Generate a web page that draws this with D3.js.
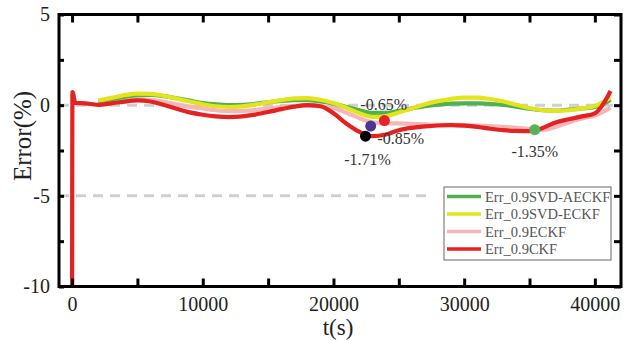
<!DOCTYPE html>
<html>
<head>
<meta charset="utf-8">
<script src="https://cdn.jsdelivr.net/npm/d3@7/dist/d3.min.js"></script>
<style>
  html, body { margin: 0; padding: 0; background: #fff; }
  svg { display: block; }
  text { font-family: "Liberation Serif", "Times New Roman", serif; }
</style>
</head>
<body>
<svg id="chart" width="634" height="341"></svg>
<script>
// Sampling times (s) shared by all four error series
const timeGrid = [2000, 3000, 4000, 5000, 6000, 7000, 8000, 9000, 10000, 11000,
  12000, 13000, 14000, 15000, 16000, 17000, 18000, 19000, 20000, 21000,
  22000, 23000, 24000, 25000, 26000, 27000, 28000, 29000, 30000, 31000,
  32000, 33000, 34000, 35000, 36000, 37000, 38000, 39000, 40000, 41000, 41200];

// SOC estimation error (%) per filter
const errSvdAeckf = [0.2, 0.33, 0.46, 0.55, 0.57, 0.5, 0.38, 0.25, 0.12, 0.04,
  0.0, 0.02, 0.08, 0.16, 0.23, 0.28, 0.28, 0.2, 0.08, -0.1,
  -0.28, -0.43, -0.43, -0.32, -0.18, -0.05, 0.03, 0.08, 0.1, 0.1,
  0.07, 0.02, -0.08, -0.2, -0.28, -0.3, -0.25, -0.18, -0.1, 0.2, 0.3];
const errSvdEckf = [0.25, 0.4, 0.55, 0.64, 0.62, 0.52, 0.36, 0.2, 0.05, -0.06,
  -0.1, -0.07, 0.03, 0.16, 0.28, 0.37, 0.39, 0.3, 0.12, -0.15,
  -0.45, -0.65, -0.6, -0.4, -0.18, 0.05, 0.22, 0.35, 0.42, 0.42,
  0.34, 0.2, 0.02, -0.16, -0.28, -0.32, -0.28, -0.18, -0.05, 0.33, 0.4];
const errEckf = [0.08, 0.15, 0.25, 0.32, 0.3, 0.18, 0.04, -0.08, -0.18, -0.28,
  -0.33, -0.32, -0.27, -0.18, -0.1, -0.04, -0.02, -0.06, -0.15, -0.42,
  -0.72, -0.95, -1.0, -1.0, -1.03, -1.06, -1.08, -1.08, -1.1, -1.12,
  -1.15, -1.2, -1.25, -1.3, -1.36, -1.2, -0.95, -0.74, -0.57, -0.22, -0.13];
const errCkf = [0.02, 0.1, 0.2, 0.26, 0.2, 0.02, -0.2, -0.4, -0.53, -0.62,
  -0.66, -0.62, -0.52, -0.38, -0.22, -0.08, 0.0, -0.06, -0.45, -1.02,
  -1.47, -1.71, -1.62, -1.38, -1.25, -1.17, -1.12, -1.1, -1.13, -1.2,
  -1.3, -1.38, -1.42, -1.43, -1.26, -0.95, -0.78, -0.62, -0.45, 0.5, 0.78];

// CKF start-up transient before the shared grid
const ckfLeadTime = [0, 30, 250, 1000];
const ckfLeadErr = [-10.6, 0.72, 0.12, 0.1];

const seriesNames = ["Err_0.9SVD-AECKF", "Err_0.9SVD-ECKF", "Err_0.9ECKF", "Err_0.9CKF"];
const seriesColors = ["#4fb24f", "#e4e41c", "#f4b6b6", "#e42222"];

// Marked points and their annotations
const markTime = [22850, 23900, 22450, 35400, 23000];
const markErr = [-1.15, -0.85, -1.71, -1.35, -0.65];
const markLabel = ["", "-0.85%", "-1.71%", "-1.35%", "-0.65%"];
const markColor = ["#4a3597", "#e8222a", "#000000", "#55b455", null];

const xTicks = [0, 5000, 10000, 15000, 20000, 25000, 30000, 35000, 40000];
const yTicks = [5, 2.5, 0, -2.5, -5, -7.5, -10];
const refLevels = [0, -5];

const svg = d3.select("#chart");
const L = 59, R = 621, T = 14.5, B = 286.5;

const x = d3.scaleLinear().domain([-1000, 42000]).range([L, R]);
const y = d3.scaleLinear().domain([-10, 5]).range([B, T]);

svg.append("defs").append("clipPath").attr("id", "plotClip")
  .append("rect").attr("x", L).attr("y", T).attr("width", R - L).attr("height", B - T);

// Dashed reference levels
const refEnd = [42000, 27600];
svg.append("g").selectAll("line").data(refLevels).join("line")
  .attr("x1", x(-1000)).attr("x2", (d, i) => x(refEnd[i]))
  .attr("y1", d => y(d)).attr("y2", d => y(d))
  .attr("stroke", "#cfcfcf").attr("stroke-width", 3)
  .attr("stroke-dasharray", "10,7");

// Error curves
const line = d3.line().x(d => x(d[0])).y(d => y(d[1])).curve(d3.curveMonotoneX);
const seriesValues = [errSvdAeckf, errSvdEckf, errEckf, errCkf];
const drawOrder = [2, 0, 1, 3];
const plot = svg.append("g").attr("clip-path", "url(#plotClip)");
drawOrder.forEach(i => {
  let pts = timeGrid.map((t, k) => [t, seriesValues[i][k]]);
  if (i === 3) pts = ckfLeadTime.map((t, k) => [t, ckfLeadErr[k]]).concat(pts);
  plot.append("path").datum(pts)
    .attr("fill", "none")
    .attr("stroke", seriesColors[i])
    .attr("stroke-width", 4.2)
    .attr("stroke-linejoin", "round")
    .attr("d", line);
});

// Axes: inward ticks on all four sides; plain hyphen for negatives
const fmtX = d => (d % 10000 === 0 ? String(d) : "");
const fmtY = d => (d % 5 === 0 ? String(d) : "");
function styleAxis(g) {
  g.select(".domain").remove();
  g.selectAll(".tick line").attr("stroke", "#000").attr("stroke-width", 3);
  g.selectAll(".tick text").attr("fill", "#222").attr("font-size", 20)
    .style("font-family", "'Liberation Serif', serif");
}
svg.append("g").attr("transform", `translate(0,${B})`)
  .call(d3.axisBottom(x).tickValues(xTicks).tickSize(-8).tickPadding(10).tickFormat(fmtX))
  .call(styleAxis);
svg.append("g").attr("transform", `translate(0,${T})`)
  .call(d3.axisTop(x).tickValues(xTicks).tickSize(-8).tickFormat(""))
  .call(styleAxis);
svg.append("g").attr("transform", `translate(${L},0)`)
  .call(d3.axisLeft(y).tickValues(yTicks).tickSize(-5).tickPadding(9).tickFormat(fmtY))
  .call(styleAxis);
svg.append("g").attr("transform", `translate(${R},0)`)
  .call(d3.axisRight(y).tickValues(yTicks).tickSize(-7).tickFormat(""))
  .call(styleAxis);

// Frame
svg.append("rect").attr("x", L).attr("y", T).attr("width", R - L).attr("height", B - T)
  .attr("fill", "none").attr("stroke", "#000").attr("stroke-width", 3);

// Axis titles
svg.append("text").attr("transform", "translate(31,136) rotate(-90)")
  .attr("text-anchor", "middle").attr("font-size", 25).attr("fill", "#222").text("Error(%)");
svg.append("text").attr("x", 338).attr("y", 335)
  .attr("text-anchor", "middle").attr("font-size", 23).attr("fill", "#222").text("t(s)");

// Marker dots and value labels
const labelOffset = [[0, 0], [-7, 23], [2, 29], [0, 27], [11, -7]];
const labelAnchor = ["middle", "start", "middle", "middle", "middle"];
markTime.forEach((t, i) => {
  if (markColor[i]) {
    svg.append("circle").attr("cx", x(t)).attr("cy", y(markErr[i])).attr("r", 5.5)
      .attr("fill", markColor[i]);
  }
  if (markLabel[i]) {
    svg.append("text")
      .attr("x", x(t) + labelOffset[i][0]).attr("y", y(markErr[i]) + labelOffset[i][1])
      .attr("text-anchor", labelAnchor[i]).attr("font-size", 16).attr("fill", "#333")
      .text(markLabel[i]);
  }
});

// Legend
const lg = svg.append("g").attr("transform", "translate(444,187)");
lg.append("rect").attr("width", 167).attr("height", 73)
  .attr("fill", "#fff").attr("stroke", "#666").attr("stroke-width", 1);
seriesNames.forEach((name, i) => {
  const yy = 9.5 + i * 17.5;
  lg.append("line").attr("x1", 3).attr("x2", 37).attr("y1", yy).attr("y2", yy)
    .attr("stroke", seriesColors[i]).attr("stroke-width", 3.5);
  lg.append("text").attr("x", 41).attr("y", yy).attr("dy", "0.35em")
    .attr("font-size", 14.5).attr("fill", "#555").text(name);
});
</script>
</body>
</html>
